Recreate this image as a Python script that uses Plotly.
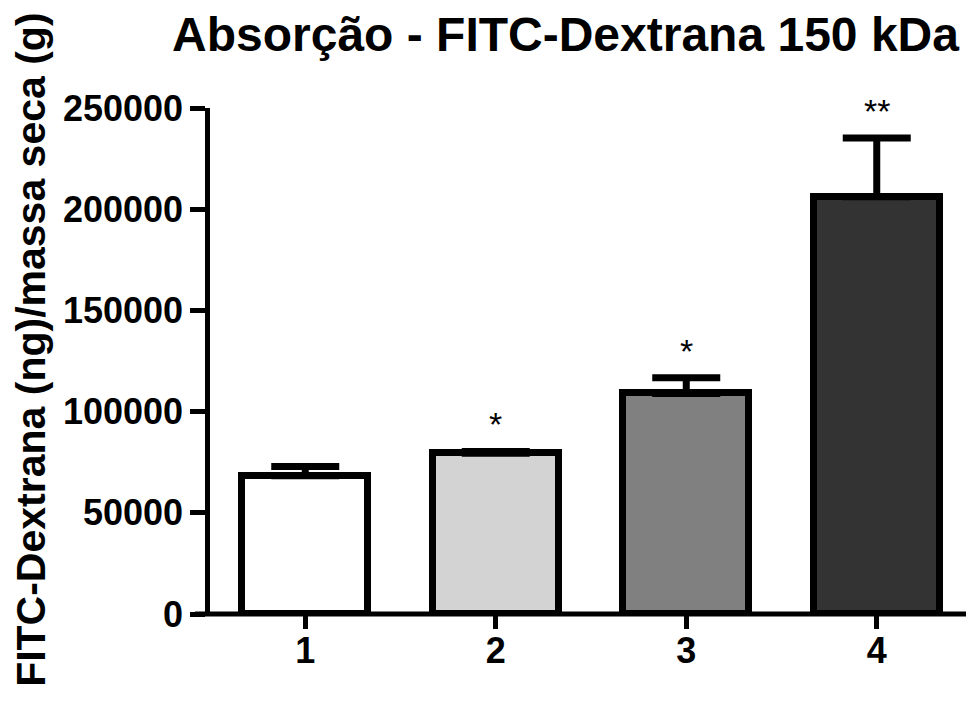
import plotly.graph_objects as go

categories = ["1", "2", "3", "4"]
means = [68300, 79400, 109000, 206100]
errors = [4600, 900, 7700, 29100]
stars = ["", "*", "*", "**"]
fills = ["#ffffff", "#d3d3d3", "#808080", "#333333"]
ytick_vals = [0, 50000, 100000, 150000, 200000, 250000]
ytick_text = ["0", "50000", "100000", "150000", "200000", "250000"]

FONT = "Liberation Sans, Arial, sans-serif"
OFF = 8  # page body margin of the html page

W, H = 974 - OFF, 704 - OFF
L, T = 210 - OFF, 108 - OFF
PR, PB = 972 - OFF, 614.5 - OFF
PW = PR - L

fig = go.Figure()
fig.add_trace(go.Bar(
    x=list(range(len(categories))),
    y=means,
    width=0.66,
    marker=dict(color=fills, line=dict(color="black", width=7)),
    error_y=dict(type="data", array=errors, arrayminus=[0] * len(errors),
                 symmetric=False, color="black", thickness=7, width=34),
    showlegend=False,
))

annotations = []
for i, (m, e, s) in enumerate(zip(means, errors, stars)):
    if s:
        annotations.append(dict(x=i, y=m + e, xref="x", yref="y", text=s,
                                showarrow=False, yanchor="bottom", yshift=6,
                                font=dict(family=FONT, size=34, color="black")))

annotations.append(dict(text="<b>FITC-Dextrana (ng)/massa seca (g)</b>",
                        xref="paper", yref="paper", x=(31 - 210) / PW, y=0.522,
                        xanchor="center", yanchor="middle", textangle=-90,
                        showarrow=False,
                        font=dict(family=FONT, size=41, color="black")))

fig.update_layout(
    width=W, height=H,
    margin=dict(l=L, r=W - PR, t=T, b=H - PB, autoexpand=False),
    paper_bgcolor="white", plot_bgcolor="white",
    bargap=0,
    title=dict(text="<b>Absorção - FITC-Dextrana 150 kDa</b>",
               x=(565.5 - OFF) / W, xanchor="center", xref="container",
               y=1 - (34 - OFF) / H, yanchor="middle", yref="container",
               font=dict(family=FONT, size=48, color="black")),
    annotations=annotations,
    shapes=[dict(type="line", xref="paper", yref="paper",
                 x0=-15 / PW, x1=1, y0=0, y1=0,
                 line=dict(color="black", width=5), layer="above")],
)

fig.update_xaxes(
    range=[-0.5, 3.5],
    tickvals=list(range(len(categories))), ticktext=categories,
    showline=False, showgrid=False, zeroline=False,
    ticks="outside", ticklen=14, tickwidth=5, tickcolor="black",
    ticklabelstandoff=-9,
    tickfont=dict(family=FONT, size=36, color="black", weight="bold"),
)
fig.update_yaxes(
    range=[0, 250000],
    tickvals=ytick_vals, ticktext=ytick_text,
    showline=True, linecolor="black", linewidth=4.5,
    showgrid=False, zeroline=False,
    ticks="outside", ticklen=15, tickwidth=4.5, tickcolor="black",
    tickfont=dict(family=FONT, size=36, color="black", weight="bold"),
)

fig.write_html("out.html")
